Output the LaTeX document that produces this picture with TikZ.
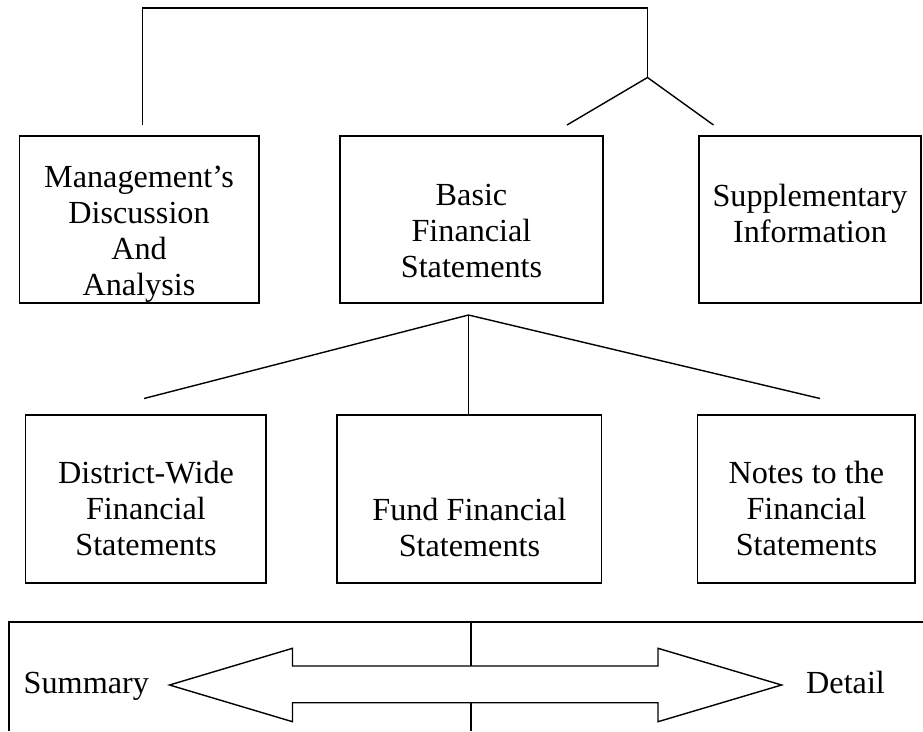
\documentclass[tikz,border=0pt]{standalone}
\usepackage{fontspec}
\setmainfont{Liberation Serif}
\begin{document}
\begin{tikzpicture}[x=1pt,y=-1pt,
  box/.style={draw, line width=1.8pt, inner sep=0pt, outer sep=0pt, anchor=north west},
  txt/.style={align=center, inner sep=0pt, font=\fontsize{32.2}{36}\selectfont},
  conn/.style={line width=1.4pt}]
\useasboundingbox (0,0) rectangle (923,731);
% boxes, top row
\node[box, minimum width=239.6pt, minimum height=167.3pt] (mda) at (19.4,136) {};
\node[box, minimum width=263.3pt, minimum height=167.3pt] (bfs) at (340,136) {};
\node[box, minimum width=221.8pt, minimum height=167.3pt] (sup) at (699.2,136) {};
% boxes, bottom row
\node[box, minimum width=240.5pt, minimum height=168.3pt] (dw) at (25.5,415) {};
\node[box, minimum width=264.2pt, minimum height=168.3pt] (fund) at (337.3,415) {};
\node[box, minimum width=217.8pt, minimum height=168.3pt] (notes) at (697.5,415) {};
% texts
\node[txt] (tmda) at (139,234) {Management’s\\Discussion\\And\\Analysis};
\node[txt] (tbfs) at (471.5,231) {Basic\\Financial\\Statements};
\node[txt] (tsup) at (810,213) {Supplementary\\Information};
\node[txt] (tdw) at (146,508) {District-Wide\\Financial\\Statements};
\node[txt] (tfund) at (469.4,527) {Fund Financial\\Statements};
\node[txt] (tnotes) at (806.4,508) {Notes to the\\Financial\\Statements};
% top connectors
\coordinate (tl) at (142.5,8);
\coordinate (tr) at (647.5,8);
\coordinate (l1) at (142.5,125);
\coordinate (apex) at (647.5,77.5);
\coordinate (d1) at (567,125);
\coordinate (d2) at (713.5,125);
\draw[conn] (l1) -- (tl) -- (tr) -- (apex);
\draw[conn] (d1) -- (apex) -- (d2);
% middle connectors
\coordinate (apex2) at (468.5,315);
\coordinate (e1) at (144,398.5);
\coordinate (e2) at (820,398.5);
\draw[conn] (e1) -- (apex2) -- (e2);
\draw[conn] (apex2) -- (apex2 |- fund.north);
% bottom frame
\coordinate (fb) at (9,731);
\coordinate (ft) at (9,622);
\coordinate (fr) at (923,622);
\draw[line width=1.8pt] (fb) -- (ft) -- (fr);
% double arrow
\coordinate (c1) at (471,622);
\coordinate (c2) at (471,666);
\coordinate (c3) at (471,702.7);
\coordinate (c4) at (471,731);
\draw[conn] (c1) -- (c2);
\draw[conn] (c3) -- (c4);
\draw[conn, line join=miter] (169.5,685) -- (292.5,648.3) -- (292.5,666) -- (658,666) -- (658,648.3)
  -- (781.6,685) -- (658,721.7) -- (658,702.7) -- (292.5,702.7) -- (292.5,721.7) -- cycle;
\node[txt, anchor=base west] (summ) at (23.5,693) {Summary};
\node[txt, anchor=base west] (det) at (806,693) {Detail};
\end{tikzpicture}
\end{document}
